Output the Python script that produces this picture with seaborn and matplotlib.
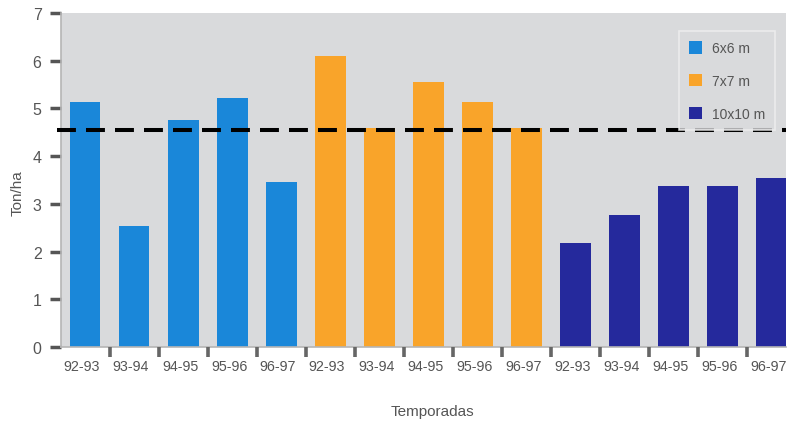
import matplotlib
matplotlib.use("Agg")
import matplotlib.pyplot as plt
import matplotlib.transforms as mtransforms
import seaborn as sns
import pandas as pd
import numpy as np

# Rendimiento por temporada para cada marco de plantación
temporadas = ["92-93", "93-94", "94-95", "95-96", "96-97"]
marcos = ["6x6 m", "7x7 m", "10x10 m"]
rend_6x6 = [5.14, 2.53, 4.75, 5.21, 3.46]
rend_7x7 = [6.09, 4.58, 5.55, 5.14, 4.58]
rend_10x10 = [2.19, 2.76, 3.37, 3.37, 3.55]
promedio = 4.55
colores = ["#1a87d9", "#f9a42a", "#25299c"]

df = pd.DataFrame({
    "Marco": np.repeat(marcos, len(temporadas)),
    "Temporada": temporadas * len(marcos),
    "Ton/ha": rend_6x6 + rend_7x7 + rend_10x10,
})
df["pos"] = np.arange(len(df))

sns.set_theme(style="white")
plt.rcParams["font.family"] = ["Liberation Sans", "DejaVu Sans"]
txt = "#555555"

fig = plt.figure(figsize=(7.88, 4.27), dpi=100)
ax = fig.add_axes([61 / 788, 1 - 348 / 427, 725 / 788, 334 / 427])
ax.set_facecolor("#d9dadc")

sns.barplot(data=df, x="pos", y="Ton/ha", hue="Marco", palette=colores,
            dodge=False, width=0.63, saturation=1, linewidth=0, ax=ax,
            legend=True)

ax.axhline(promedio, xmin=-0.006, xmax=1, color="black", lw=2.9,
           dashes=(4.7, 2.5), zorder=5, clip_on=False)

ax.set_ylim(0, 7)
ax.set_xlim(-0.49, 14.3)
ax.set_yticks(range(8))
ax.set_yticklabels([str(i) for i in range(8)], fontsize=11.5, color=txt)
ax.tick_params(axis="y", length=8, width=2.5, color="#555555", pad=6, left=True)

ax.set_xticks(df["pos"])
ax.set_xticklabels(df["Temporada"], fontsize=10.3, color=txt)
ax.tick_params(axis="x", length=0, pad=9)
shift = mtransforms.ScaledTranslation(-3 / 100, 0, fig.dpi_scale_trans)
for lab in ax.get_xticklabels():
    lab.set_transform(lab.get_transform() + shift)

# separadores entre barras bajo el eje
for b in np.arange(0.5, 14, 1.0):
    ax.plot([b, b], [0, -0.22], color="#666666", lw=2.6, clip_on=False,
            solid_capstyle="butt", zorder=6)

for side in ["top", "right"]:
    ax.spines[side].set_visible(False)
for side in ["left", "bottom"]:
    ax.spines[side].set_color("#b5b5b5")
    ax.spines[side].set_linewidth(1.2)

ax.set_ylabel("Ton/ha", fontsize=11, color=txt)
ax.yaxis.set_label_coords(-0.05, 0.464)
ax.set_xlabel("Temporadas", fontsize=11, color=txt)
ax.xaxis.set_label_coords(0.513, -0.172)

handles, labels = ax.get_legend_handles_labels()
leg = ax.legend(handles, labels, loc="upper right", bbox_to_anchor=(0.985, 0.945),
                fontsize=10, frameon=True, fancybox=False, handlelength=1.0,
                handleheight=1.0, labelspacing=1.35, handletextpad=0.7,
                borderpad=0.7, borderaxespad=0)
leg.get_frame().set_facecolor("#d9dadc")
leg.get_frame().set_edgecolor("#f0f0f0")
leg.get_frame().set_linewidth(1.2)
leg.set_zorder(10)
for t in leg.get_texts():
    t.set_color(txt)

fig.savefig("out.png", dpi=100)
